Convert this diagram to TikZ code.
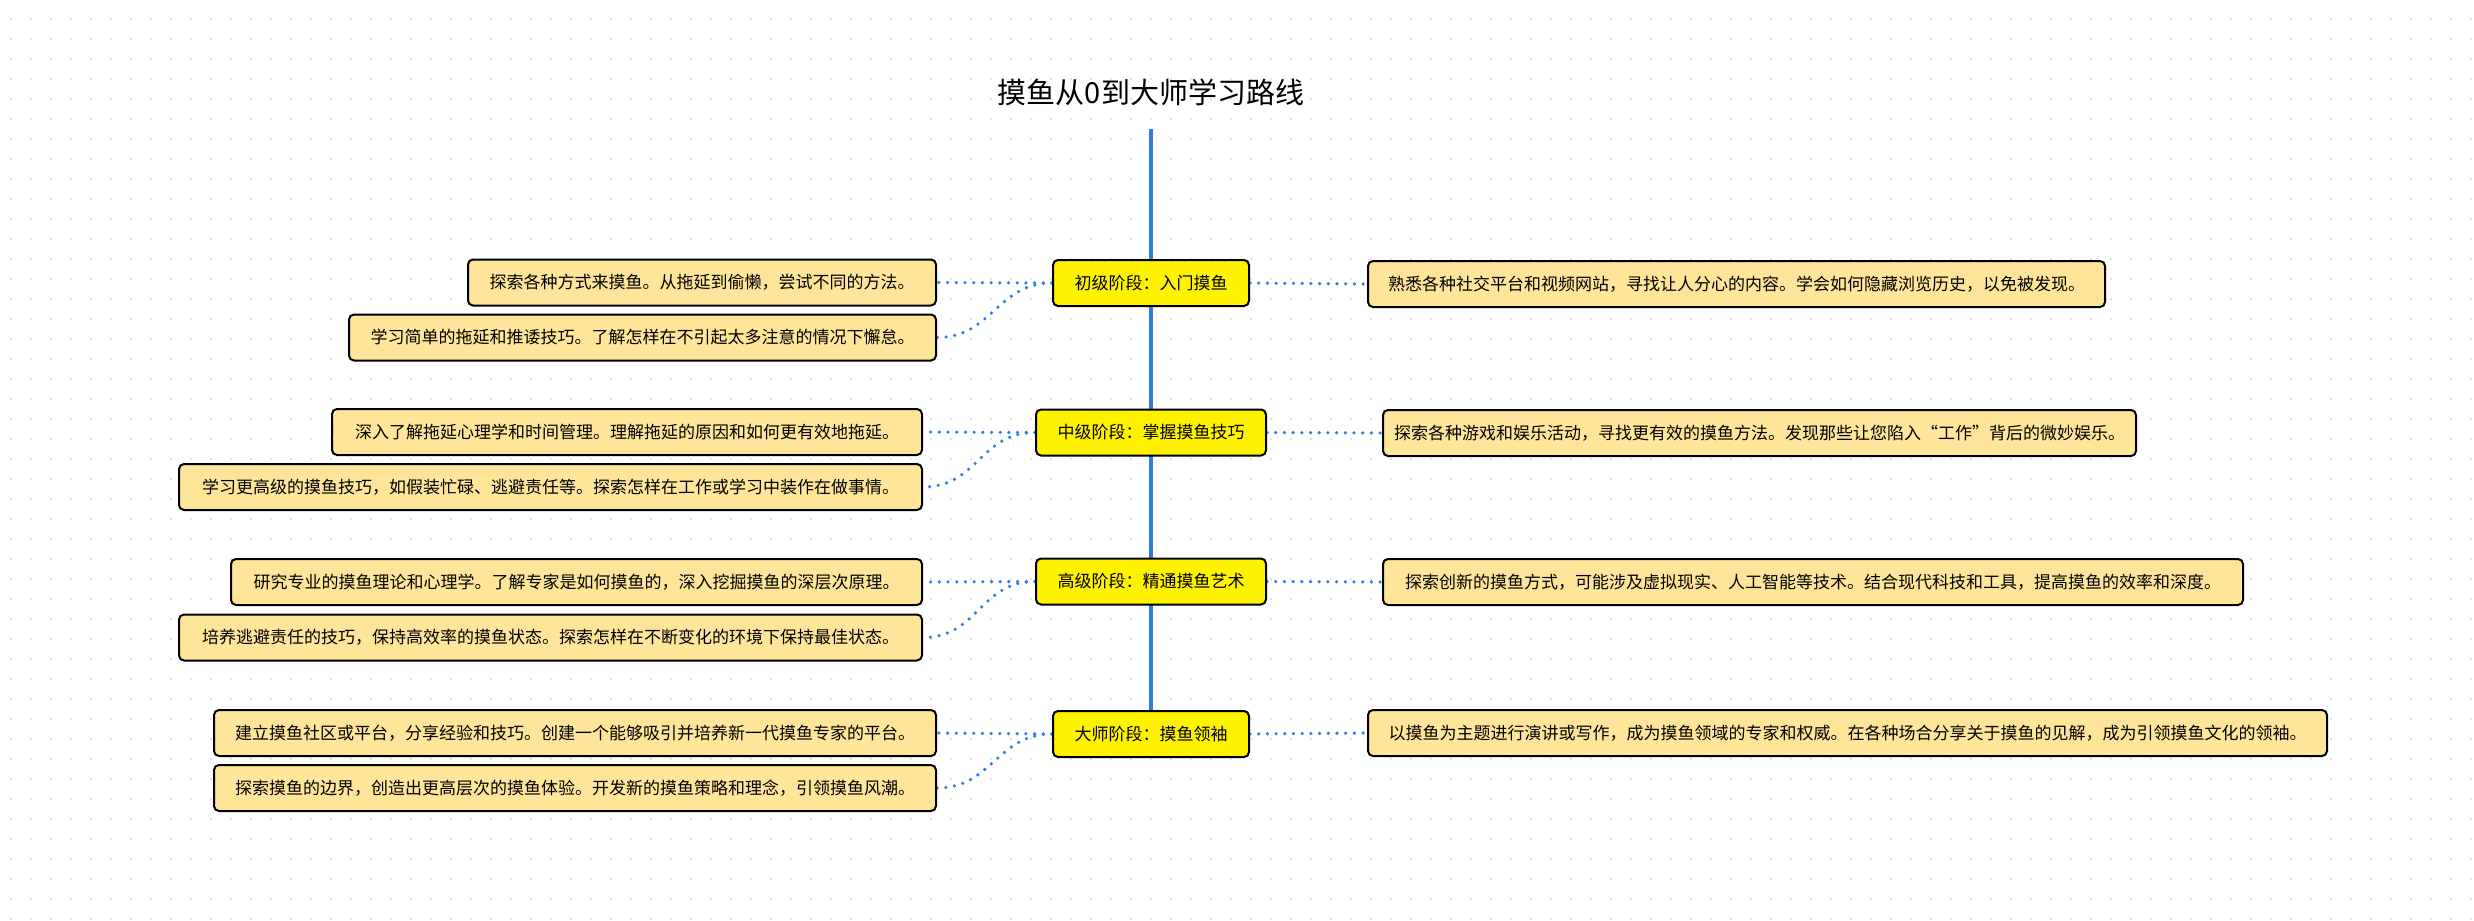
\documentclass[tikz,border=0pt]{standalone}
\usepackage{fontspec}
\setmainfont{Noto Sans CJK SC}
\usetikzlibrary{backgrounds}
\definecolor{linkblue}{HTML}{2F7DE3}
\definecolor{detailfill}{HTML}{FFE599}
\definecolor{gridgray}{HTML}{E2E2E2}
\begin{document}
\begin{tikzpicture}[x=1pt,y=-1pt,
  boxbase/.style={draw=black, line width=2pt, rounded corners=5pt, minimum height=46pt, inner sep=0pt, text=black, font=\fontsize{17}{20}\selectfont},
  stagebox/.style={boxbase, fill=yellow},
  detailbox/.style={boxbase, fill=detailfill},
  mainline/.style={draw=linkblue, line width=4pt},
  link/.style={draw=linkblue, line width=3.6pt, line cap=round, dash pattern=on 0pt off 8.7pt}
]
\useasboundingbox (0,0) rectangle (2474,921);
% title
\node[font=\fontsize{29}{35}\selectfont, text=black] (title) at (1151,92) {摸鱼从0到大师学习路线};
\coordinate (top) at (1151,129);
% stages
\node[stagebox, minimum width=196pt] (s1) at (1151,283) {初级阶段：入门摸鱼};
\node[stagebox, minimum width=230pt] (s2) at (1151,432.5) {中级阶段：掌握摸鱼技巧};
\node[stagebox, minimum width=230pt] (s3) at (1151,581.5) {高级阶段：精通摸鱼艺术};
\node[stagebox, minimum width=196pt] (s4) at (1151,734) {大师阶段：摸鱼领袖};
% left details
\node[detailbox, anchor=east, minimum width=468pt] (l1a) at (937,282.5) {探索各种方式来摸鱼。从拖延到偷懒，尝试不同的方法。};
\node[detailbox, anchor=east, minimum width=587pt] (l1b) at (937,337.5) {学习简单的拖延和推诿技巧。了解怎样在不引起太多注意的情况下懈怠。};
\node[detailbox, anchor=east, minimum width=590pt] (l2a) at (923,432) {深入了解拖延心理学和时间管理。理解拖延的原因和如何更有效地拖延。};
\node[detailbox, anchor=east, minimum width=743pt] (l2b) at (923,487) {学习更高级的摸鱼技巧，如假装忙碌、逃避责任等。探索怎样在工作或学习中装作在做事情。};
\node[detailbox, anchor=east, minimum width=691pt] (l3a) at (923,582) {研究专业的摸鱼理论和心理学。了解专家是如何摸鱼的，深入挖掘摸鱼的深层次原理。};
\node[detailbox, anchor=east, minimum width=743pt] (l3b) at (923,637.5) {培养逃避责任的技巧，保持高效率的摸鱼状态。探索怎样在不断变化的环境下保持最佳状态。};
\node[detailbox, anchor=east, minimum width=722pt] (l4a) at (937,733) {建立摸鱼社区或平台，分享经验和技巧。创建一个能够吸引并培养新一代摸鱼专家的平台。};
\node[detailbox, anchor=east, minimum width=722pt] (l4b) at (937,788) {探索摸鱼的边界，创造出更高层次的摸鱼体验。开发新的摸鱼策略和理念，引领摸鱼风潮。};
% right details
\node[detailbox, anchor=west, minimum width=737pt] (r1) at (1367,284) {熟悉各种社交平台和视频网站，寻找让人分心的内容。学会如何隐藏浏览历史，以免被发现。};
\node[detailbox, anchor=west, minimum width=753pt] (r2) at (1382,433) {探索各种游戏和娱乐活动，寻找更有效的摸鱼方法。发现那些让您陷入“工作”背后的微妙娱乐。};
\node[detailbox, anchor=west, minimum width=860pt] (r3) at (1382,582) {探索创新的摸鱼方式，可能涉及虚拟现实、人工智能等技术。结合现代科技和工具，提高摸鱼的效率和深度。};
\node[detailbox, anchor=west, minimum width=959pt] (r4) at (1367,733) {以摸鱼为主题进行演讲或写作，成为摸鱼领域的专家和权威。在各种场合分享关于摸鱼的见解，成为引领摸鱼文化的领袖。};
\begin{scope}[on background layer]
  \fill[white] (0,0) rectangle (2474,921);
  \foreach \j in {0,...,45}
    \draw[gridgray, line width=2pt, dash pattern=on 2pt off 18pt] (10,{19+20*\j}) -- (2474,{19+20*\j});
  \draw[mainline] (top) -- (s4.north);
  \foreach \s/\a/\b/\r in {s1/l1a/l1b/r1, s2/l2a/l2b/r2, s3/l3a/l3b/r3, s4/l4a/l4b/r4} {
    \draw[link] (\s.west) -- (\a.east);
    \draw[link] (\s.west) .. controls +(-55,0) and +(55,0) .. (\b.east);
    \draw[link] (\s.east) -- (\r.west);
  }
\end{scope}
\end{tikzpicture}
\end{document}
